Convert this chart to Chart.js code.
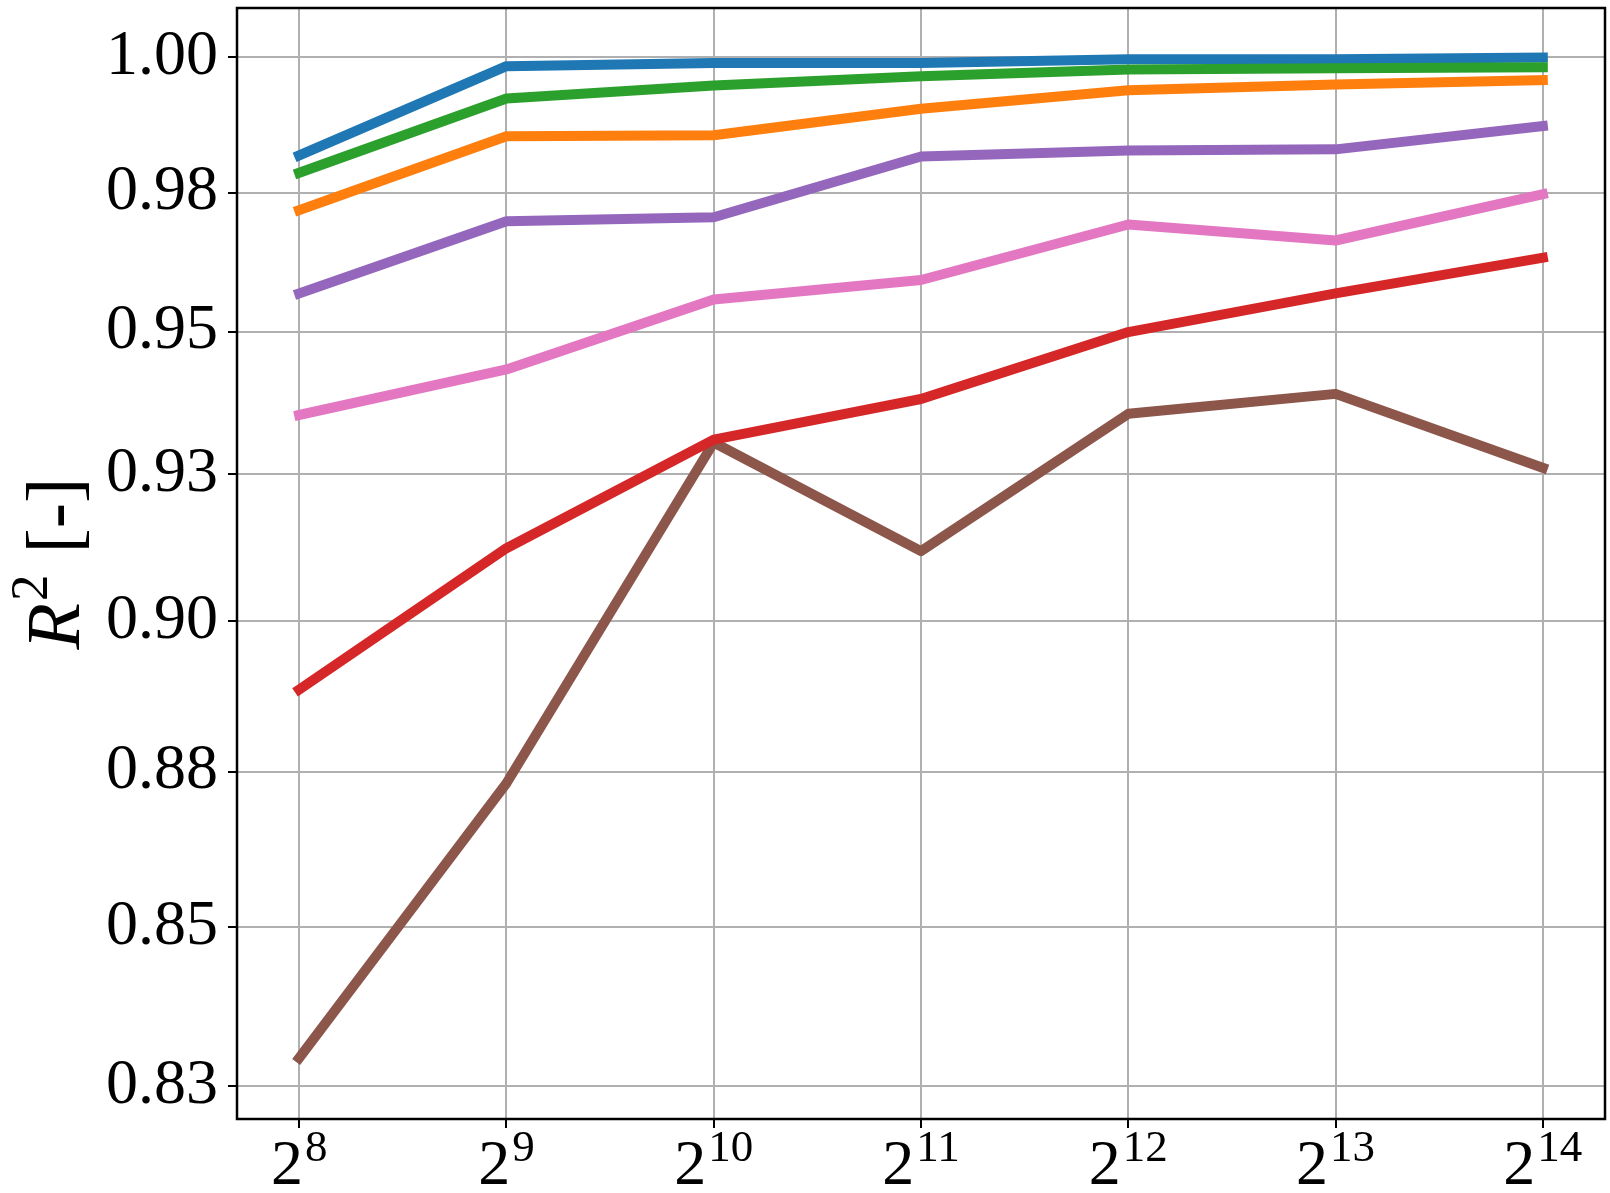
<!DOCTYPE html>
<html><head><meta charset="utf-8">
<script src="https://cdn.jsdelivr.net/npm/chart.js@4/dist/chart.umd.min.js"></script>
<style>html,body{margin:0;padding:0;background:#fff}#wrap{width:1610px;height:1193px}</style>
</head><body><div id="wrap"><canvas id="c" width="1610" height="1193"></canvas></div>
<script>
// ---- data ----
const exponents = [8, 9, 10, 11, 12, 13, 14];            // x = 2^n
const yTickValues = [0.825, 0.85, 0.875, 0.9, 0.925, 0.95, 0.975, 1.0];
const yTickLabels = ['0.83', '0.85', '0.88', '0.90', '0.93', '0.95', '0.98', '1.00'];
const blueVals   = [0.9818, 0.9983, 0.9989, 0.9989, 0.9996, 0.9996, 0.9999];
const orangeVals = [0.9718, 0.9853, 0.9855, 0.9904, 0.9938, 0.9949, 0.9957];
const greenVals  = [0.9786, 0.9923, 0.9947, 0.9964, 0.9977, 0.9979, 0.9981];
const redVals    = [0.8885, 0.9123, 0.9310, 0.9381, 0.9499, 0.9568, 0.9632];
const purpleVals = [0.9568, 0.9698, 0.9705, 0.9816, 0.9827, 0.9829, 0.9872];
const brownVals  = [0.8294, 0.8731, 0.9305, 0.9118, 0.9355, 0.9390, 0.9261];
const pinkVals   = [0.9353, 0.9433, 0.9557, 0.9592, 0.9692, 0.9663, 0.9747];

const FONT = '"Liberation Serif", "DejaVu Serif", serif';

function mk(vals, color, order) {
  return {
    data: exponents.map((e, i) => ({x: e, y: vals[i]})),
    borderColor: color, backgroundColor: color,
    borderWidth: 10, pointRadius: 0, tension: 0, fill: false,
    borderCapStyle: 'square', borderJoinStyle: 'round', order: order
  };
}

const datasets = [
  mk(blueVals,   '#1f77b4', 7),
  mk(orangeVals, '#ff7f0e', 6),
  mk(greenVals,  '#2ca02c', 5),
  mk(redVals,    '#d62728', 1),
  mk(purpleVals, '#9467bd', 3),
  mk(brownVals,  '#8c564b', 4),
  mk(pinkVals,   '#e377c2', 2)
];

function noPad(s) { s.paddingTop = 0; s.paddingBottom = 0; s.paddingLeft = 0; s.paddingRight = 0; }

const decor = {
  id: 'decor',
  afterDraw(chart) {
    const ctx = chart.ctx, a = chart.chartArea, xs = chart.scales.x;
    ctx.save();
    // frame
    ctx.strokeStyle = '#000'; ctx.lineWidth = 2.5;
    ctx.strokeRect(a.left, a.top, a.right - a.left, a.bottom - a.top);
    // x tick labels 2^n
    ctx.fillStyle = '#000'; ctx.textAlign = 'left'; ctx.textBaseline = 'alphabetic';
    exponents.forEach(e => {
      const px = xs.getPixelForValue(e);
      ctx.font = '64px ' + FONT; const wb = ctx.measureText('2').width;
      ctx.font = '45px ' + FONT; const ws = ctx.measureText(String(e)).width;
      const x0 = px - (wb + ws + 2) / 2;
      ctx.font = '64px ' + FONT; ctx.fillText('2', x0, a.bottom + 65);
      ctx.font = '45px ' + FONT; ctx.fillText(String(e), x0 + wb + 2, a.bottom + 42);
    });
    // y title  R^2 [-]
    ctx.translate(79, (a.top + a.bottom) / 2);
    ctx.rotate(-Math.PI / 2);
    const fR = 'italic 76px ' + FONT, fS = '53px ' + FONT, fN = '76px ' + FONT;
    ctx.font = fR; const wR = ctx.measureText('R').width;
    ctx.font = fS; const w2 = ctx.measureText('2').width;
    ctx.font = fN; const wB = ctx.measureText(' [-]').width;
    let x = -(wR + w2 + 4 + wB) / 2;
    ctx.font = fR; ctx.fillText('R', x, 0); x += wR + 2;
    ctx.font = fS; ctx.fillText('2', x, -32); x += w2 + 2;
    ctx.font = fN; ctx.fillText(' [-]', x, 0);
    ctx.restore();
  }
};

new Chart(document.getElementById('c'), {
  type: 'line',
  data: { datasets },
  options: {
    responsive: false, animation: false, devicePixelRatio: 1,
    layout: { padding: { top: 8, right: 5, left: 0, bottom: 0 } },
    plugins: { legend: { display: false }, tooltip: { enabled: false } },
    scales: {
      x: {
        type: 'linear', min: 7.7, max: 14.3,
        afterBuildTicks: s => { s.ticks = exponents.map(v => ({ value: v })); },
        afterFit: s => { s.height = 74; noPad(s); },
        ticks: { autoSkip: false, callback: () => '', font: { size: 10 } },
        grid: { color: '#b0b0b0', lineWidth: 2, tickColor: '#000', tickLength: 9, tickWidth: 2 },
        border: { display: true, color: '#000', width: 2 }
      },
      y: {
        type: 'logarithmic', min: 0.82227, max: 1.00921,
        afterBuildTicks: s => { s.ticks = yTickValues.map(v => ({ value: v })); },
        afterFit: s => { s.width = 237; noPad(s); },
        ticks: {
          autoSkip: false, color: '#000', padding: 10,
          font: { family: FONT, size: 64 },
          callback: (v, i) => yTickLabels[i]
        },
        grid: { color: '#b0b0b0', lineWidth: 2, tickColor: '#000', tickLength: 9, tickWidth: 2 },
        border: { display: true, color: '#000', width: 2 }
      }
    }
  },
  plugins: [decor]
});
</script>
</body></html>
